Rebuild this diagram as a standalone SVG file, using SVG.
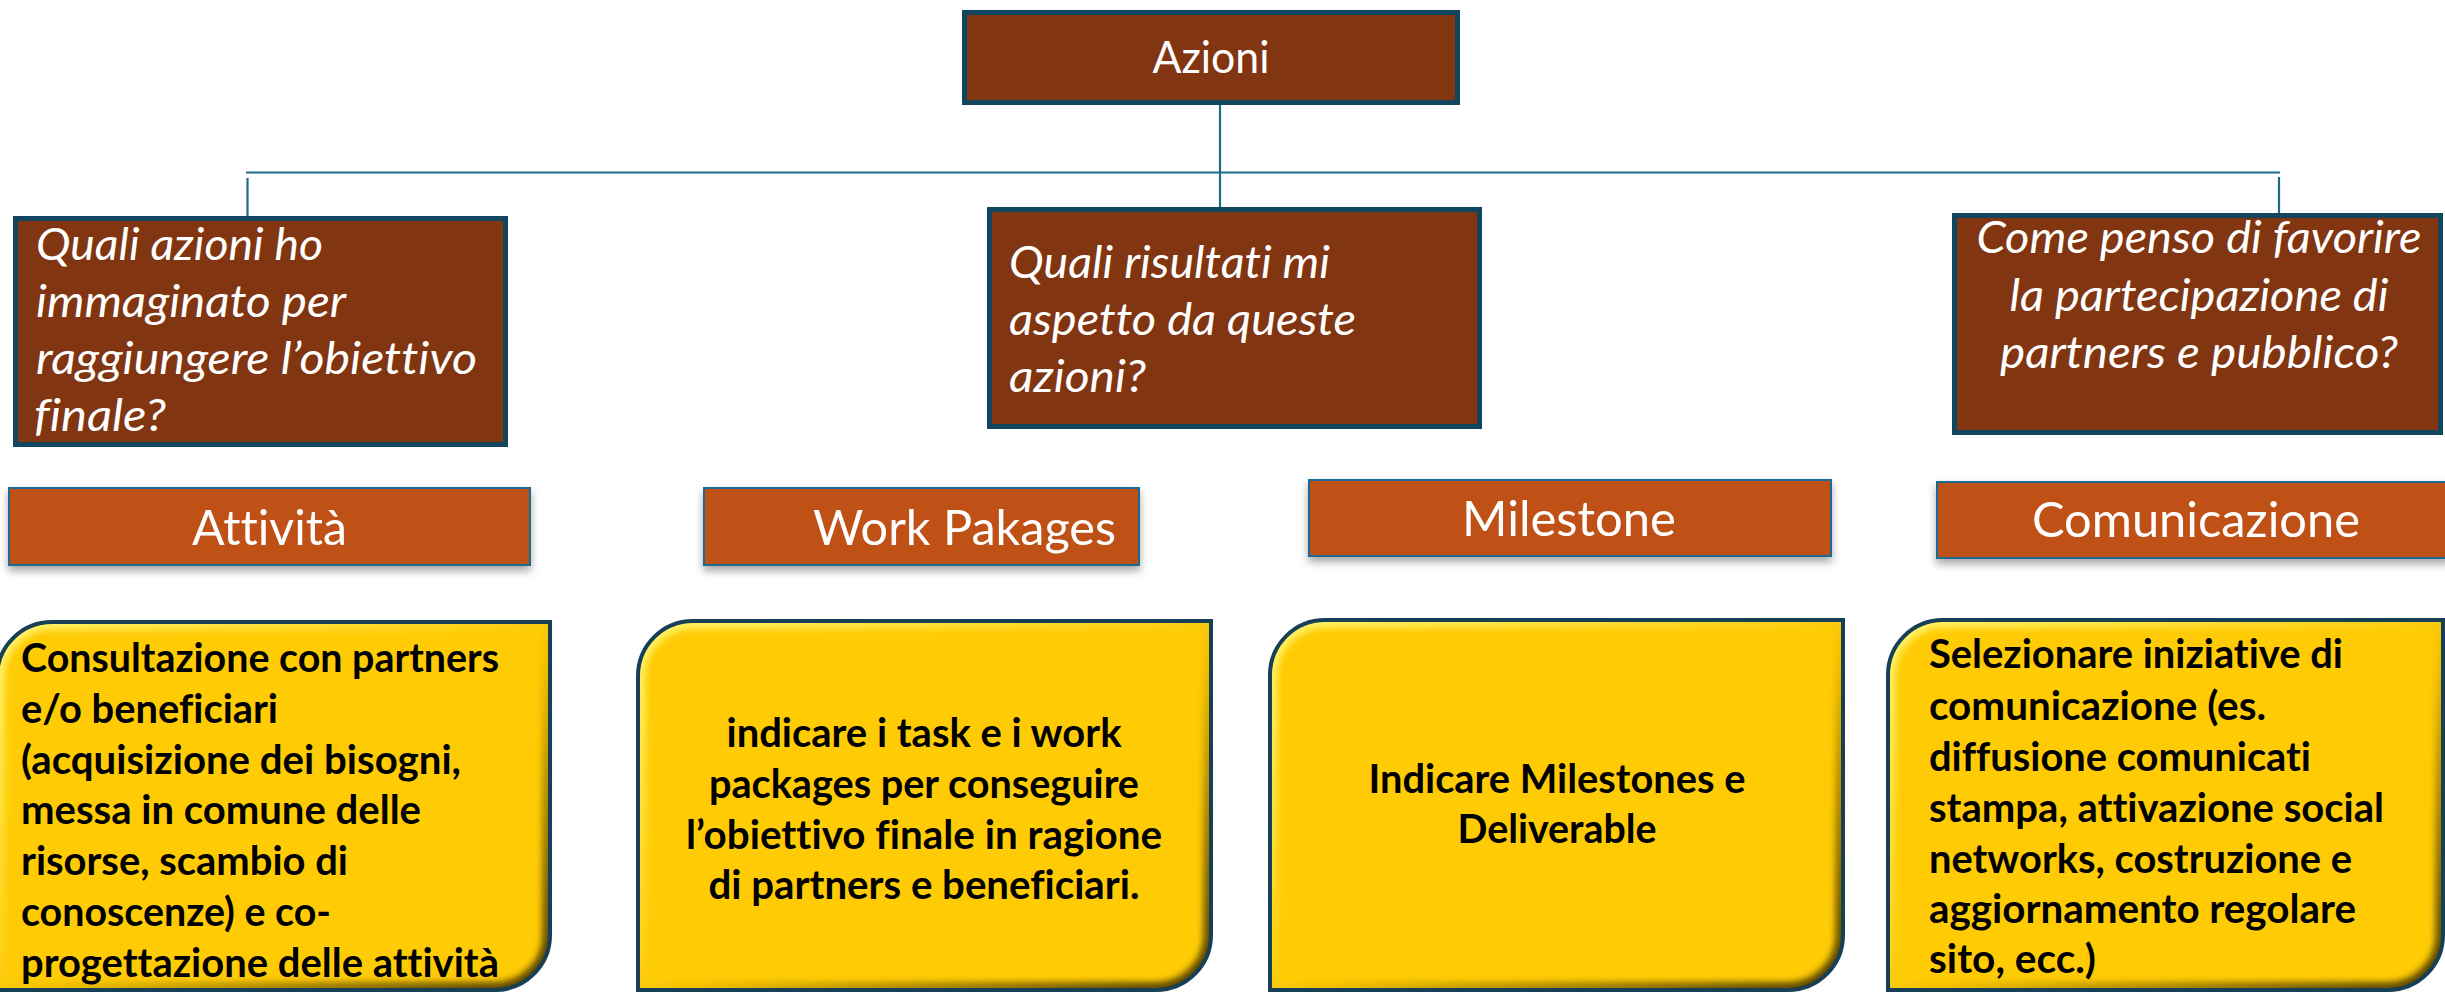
<svg xmlns="http://www.w3.org/2000/svg" xmlns:xlink="http://www.w3.org/1999/xlink" width="2445" height="992" viewBox="0 0 2445 992">
<style>
text{font-variant-ligatures:none;font-feature-settings:"liga" 0,"clig" 0}
.q{fill:#813511;stroke:#12465e;stroke-width:5}
.h{fill:#c05116;stroke:#1f6a93;stroke-width:2}
.conn{stroke:#1f6a8f;stroke-width:2.2;fill:none}
.wt{fill:#ffffff;font-family:Lato,"Open Sans",sans-serif}
.it{font-style:italic;font-size:45px}
.hd{font-size:49px}
.bt{fill:#000000;font-family:Lato,"Open Sans",sans-serif;font-weight:bold;font-size:40px}
.yf{fill:#ffcb05}
.yb{fill:none;stroke:#173f55;stroke-width:4}
.bev{fill:none;stroke:url(#bev);stroke-width:16}
</style>
<defs>
<linearGradient id="bev" x1="0" y1="0" x2="1" y2="1">
<stop offset="0" stop-color="#fff46a"/>
<stop offset="0.45" stop-color="#ffd21a"/>
<stop offset="0.55" stop-color="#f2bf00"/>
<stop offset="1" stop-color="#4f3e00"/>
</linearGradient>
<filter id="sh" x="-5%" y="-20%" width="110%" height="160%">
<feDropShadow dx="0" dy="5" stdDeviation="4" flood-color="#000" flood-opacity="0.35"/>
</filter>
<filter id="bl" x="-5%" y="-5%" width="110%" height="110%">
<feGaussianBlur stdDeviation="3"/>
</filter>
<path id="y1" d="M-3,677 A55,55 0 0 1 52,622 L550,622 L550,935 A55,55 0 0 1 495,990 L-3,990 Z"/>
<path id="y2" d="M638,676 A55,55 0 0 1 693,621 L1211,621 L1211,935 A55,55 0 0 1 1156,990 L638,990 Z"/>
<path id="y3" d="M1270,675 A55,55 0 0 1 1325,620 L1843,620 L1843,935 A55,55 0 0 1 1788,990 L1270,990 Z"/>
<path id="y4" d="M1888,675 A55,55 0 0 1 1943,620 L2443,620 L2443,935 A55,55 0 0 1 2388,990 L1888,990 Z"/>
<clipPath id="c1"><use xlink:href="#y1"/></clipPath>
<clipPath id="c2"><use xlink:href="#y2"/></clipPath>
<clipPath id="c3"><use xlink:href="#y3"/></clipPath>
<clipPath id="c4"><use xlink:href="#y4"/></clipPath>
</defs>
<rect width="2445" height="992" fill="#ffffff"/>

<g id="connectors">
<line class="conn" x1="1220" y1="105" x2="1220" y2="208"/>
<line class="conn" x1="246" y1="172.5" x2="2280" y2="172.5"/>
<line class="conn" x1="247.5" y1="178" x2="247.5" y2="217"/>
<line class="conn" x1="2279" y1="177" x2="2279" y2="213"/>
</g>

<g id="azioni">
<rect class="q" x="964.5" y="12.5" width="493" height="90"/>
<text class="wt" x="1211" y="73" font-size="44" text-anchor="middle" textLength="117" lengthAdjust="spacingAndGlyphs">Azioni</text>
</g>

<g id="q-azioni">
<rect class="q" x="15.5" y="218.5" width="490" height="226"/>
<text class="wt it" x="36" y="260" textLength="287" lengthAdjust="spacingAndGlyphs">Quali azioni ho</text>
<text class="wt it" x="36" y="317" textLength="310" lengthAdjust="spacingAndGlyphs">immaginato per</text>
<text class="wt it" x="36" y="374" textLength="441" lengthAdjust="spacingAndGlyphs">raggiungere l’obiettivo</text>
<text class="wt it" x="34" y="431" textLength="132" lengthAdjust="spacingAndGlyphs">finale?</text>
</g>

<g id="q-risultati">
<rect class="q" x="989.5" y="209.5" width="490" height="217"/>
<text class="wt it" x="1009" y="278" textLength="321" lengthAdjust="spacingAndGlyphs">Quali risultati mi</text>
<text class="wt it" x="1009" y="335" textLength="347" lengthAdjust="spacingAndGlyphs">aspetto da queste</text>
<text class="wt it" x="1009" y="392" textLength="137" lengthAdjust="spacingAndGlyphs">azioni?</text>
</g>

<g id="q-partecipazione">
<rect class="q" x="1954.5" y="215.5" width="486" height="217"/>
<text class="wt it" x="2199" y="253" text-anchor="middle" textLength="445" lengthAdjust="spacingAndGlyphs">Come penso di favorire</text>
<text class="wt it" x="2199" y="311" text-anchor="middle" textLength="379" lengthAdjust="spacingAndGlyphs">la partecipazione di</text>
<text class="wt it" x="2199" y="368" text-anchor="middle" textLength="398" lengthAdjust="spacingAndGlyphs">partners e pubblico?</text>
</g>

<g id="h-attivita">
<rect class="h" x="9" y="488" width="521" height="77" filter="url(#sh)"/>
<text class="wt hd" x="269.5" y="545" text-anchor="middle" textLength="155" lengthAdjust="spacingAndGlyphs">Attività</text>
</g>

<g id="h-workpakages">
<rect class="h" x="704" y="488" width="435" height="77" filter="url(#sh)"/>
<text class="wt hd" x="813" y="545" textLength="303" lengthAdjust="spacingAndGlyphs">Work Pakages</text>
</g>

<g id="h-milestone">
<rect class="h" x="1309" y="480" width="522" height="76" filter="url(#sh)"/>
<text class="wt hd" x="1569" y="536" text-anchor="middle" textLength="214" lengthAdjust="spacingAndGlyphs">Milestone</text>
</g>

<g id="h-comunicazione">
<rect class="h" x="1937" y="482" width="512" height="76" filter="url(#sh)"/>
<text class="wt hd" x="2196" y="537" text-anchor="middle" textLength="328" lengthAdjust="spacingAndGlyphs">Comunicazione</text>
</g>

<g id="y-attivita">
<use xlink:href="#y1" class="yf"/>
<g clip-path="url(#c1)"><use xlink:href="#y1" class="bev" filter="url(#bl)"/></g>
<use xlink:href="#y1" class="yb"/>
<text class="bt" x="21" y="672" textLength="478" lengthAdjust="spacingAndGlyphs">Consultazione con partners</text>
<text class="bt" x="21" y="722.8" textLength="257" lengthAdjust="spacingAndGlyphs">e/o beneficiari</text>
<text class="bt" x="21" y="773.6" textLength="440" lengthAdjust="spacingAndGlyphs">(acquisizione dei bisogni,</text>
<text class="bt" x="21" y="824.4" textLength="400" lengthAdjust="spacingAndGlyphs">messa in comune delle</text>
<text class="bt" x="21" y="875.2" textLength="327" lengthAdjust="spacingAndGlyphs">risorse, scambio di</text>
<text class="bt" x="21" y="926" textLength="310" lengthAdjust="spacingAndGlyphs">conoscenze) e co-</text>
<text class="bt" x="21" y="976.8" textLength="478" lengthAdjust="spacingAndGlyphs">progettazione delle attività</text>
</g>

<g id="y-workpakages">
<use xlink:href="#y2" class="yf"/>
<g clip-path="url(#c2)"><use xlink:href="#y2" class="bev" filter="url(#bl)"/></g>
<use xlink:href="#y2" class="yb"/>
<text class="bt" x="924" y="747" text-anchor="middle" textLength="395" lengthAdjust="spacingAndGlyphs">indicare i task e i work</text>
<text class="bt" x="924" y="797.8" text-anchor="middle" textLength="430" lengthAdjust="spacingAndGlyphs">packages per conseguire</text>
<text class="bt" x="924" y="848.6" text-anchor="middle" textLength="476" lengthAdjust="spacingAndGlyphs">l’obiettivo finale in ragione</text>
<text class="bt" x="924" y="899.4" text-anchor="middle" textLength="431" lengthAdjust="spacingAndGlyphs">di partners e beneficiari.</text>
</g>

<g id="y-milestone">
<use xlink:href="#y3" class="yf"/>
<g clip-path="url(#c3)"><use xlink:href="#y3" class="bev" filter="url(#bl)"/></g>
<use xlink:href="#y3" class="yb"/>
<text class="bt" x="1557" y="793" text-anchor="middle" textLength="377" lengthAdjust="spacingAndGlyphs">Indicare Milestones e</text>
<text class="bt" x="1557" y="843" text-anchor="middle" textLength="199" lengthAdjust="spacingAndGlyphs">Deliverable</text>
</g>

<g id="y-comunicazione">
<use xlink:href="#y4" class="yf"/>
<g clip-path="url(#c4)"><use xlink:href="#y4" class="bev" filter="url(#bl)"/></g>
<use xlink:href="#y4" class="yb"/>
<text class="bt" x="1929" y="668" textLength="414" lengthAdjust="spacingAndGlyphs">Selezionare iniziative di</text>
<text class="bt" x="1929" y="719.5" textLength="337" lengthAdjust="spacingAndGlyphs">comunicazione (es.</text>
<text class="bt" x="1929" y="771" textLength="382" lengthAdjust="spacingAndGlyphs">diffusione comunicati</text>
<text class="bt" x="1929" y="821.5" textLength="455" lengthAdjust="spacingAndGlyphs">stampa, attivazione social</text>
<text class="bt" x="1929" y="872.5" textLength="423" lengthAdjust="spacingAndGlyphs">networks, costruzione e</text>
<text class="bt" x="1929" y="923" textLength="427" lengthAdjust="spacingAndGlyphs">aggiornamento regolare</text>
<text class="bt" x="1929" y="973" textLength="167" lengthAdjust="spacingAndGlyphs">sito, ecc.)</text>
</g>
</svg>
